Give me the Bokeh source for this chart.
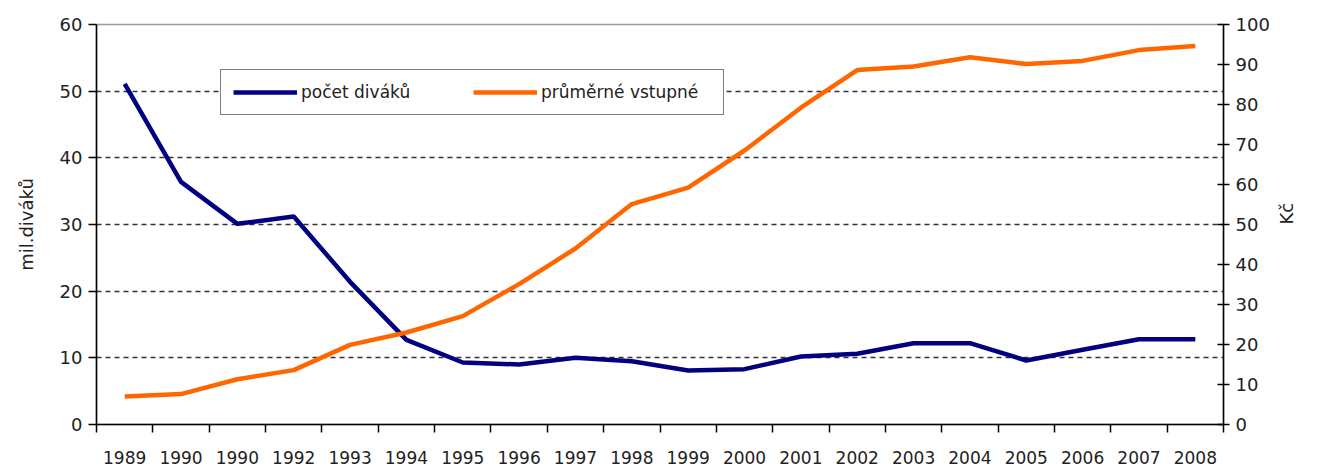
import math
from bokeh.plotting import figure
from bokeh.models import Range1d, LinearAxis, FixedTicker
from bokeh.embed import file_html
from bokeh.resources import INLINE

years = ["1989", "1990", "1990", "1992", "1993", "1994", "1995", "1996", "1997", "1998",
         "1999", "2000", "2001", "2002", "2003", "2004", "2005", "2006", "2007", "2008"]
divaci = [51.1, 36.4, 30.1, 31.2, 21.4, 12.7, 9.3, 9.0, 10.0, 9.5,
          8.1, 8.3, 10.2, 10.6, 12.2, 12.2, 9.6, 11.2, 12.8, 12.8]
vstupne = [7.0, 7.6, 11.3, 13.6, 19.9, 23.0, 27.1, 35.1, 44.0, 55.1,
           59.2, 68.5, 79.2, 88.6, 89.5, 91.8, 90.1, 90.9, 93.6, 94.6]
left_ticks = [0, 10, 20, 30, 40, 50, 60]
right_ticks = [0, 10, 20, 30, 40, 50, 60, 70, 80, 90, 100]

x = list(range(len(years)))
FONT = "DejaVu Sans"

p = figure(width=1310, height=466, output_backend="svg", toolbar_location=None,
           x_range=Range1d(-0.5, len(years) - 0.5), y_range=Range1d(0, 60),
           min_border_left=96, min_border_right=82, min_border_top=24, min_border_bottom=37)
p.extra_y_ranges = {"kc": Range1d(0, 100)}

p.outline_line_color = "#9a9a9a"
p.outline_line_width = 1.5
p.xgrid.visible = False
p.ygrid.ticker = FixedTicker(ticks=[10, 20, 30, 40, 50])
p.ygrid.grid_line_color = "#333333"
p.ygrid.grid_line_dash = "5 4"
p.ygrid.grid_line_width = 1.5

# x axis
xa = p.xaxis[0]
xa.ticker = FixedTicker(ticks=x, minor_ticks=[i - 0.5 for i in range(len(years) + 1)])
xa.major_label_overrides = {i: y for i, y in enumerate(years)}
xa.major_tick_out = 0
xa.major_tick_in = 0
xa.minor_tick_out = 8
xa.minor_tick_in = 0
xa.minor_tick_line_color = "black"
xa.minor_tick_line_width = 1.5
xa.axis_line_color = "black"
xa.axis_line_width = 1.5
xa.major_label_standoff = 18
xa.major_label_text_font = FONT
xa.major_label_text_font_size = "17px"
xa.major_label_text_color = "#222222"

# left axis
ya = p.yaxis[0]
ya.ticker = FixedTicker(ticks=left_ticks)
ya.major_tick_out = 8
ya.major_tick_in = 0
ya.minor_tick_out = 0
ya.minor_tick_in = 0
ya.axis_line_color = "black"
ya.axis_line_width = 1.5
ya.major_tick_line_width = 1.5
ya.major_label_standoff = 6
ya.major_label_text_font = FONT
ya.major_label_text_font_size = "18px"
ya.major_label_text_color = "#222222"
ya.axis_label = "mil.diváků"
ya.axis_label_text_font = FONT
ya.axis_label_text_font_size = "18px"
ya.axis_label_text_font_style = "normal"
ya.axis_label_text_color = "#222222"
ya.axis_label_standoff = 20

# right axis
ra = LinearAxis(y_range_name="kc", ticker=FixedTicker(ticks=right_ticks))
ra.major_tick_out = 6
ra.major_tick_in = 6
ra.minor_tick_out = 0
ra.minor_tick_in = 0
ra.axis_line_color = "black"
ra.axis_line_width = 1.5
ra.major_tick_line_width = 1.5
ra.major_label_standoff = 6
ra.major_label_text_font = FONT
ra.major_label_text_font_size = "18px"
ra.major_label_text_color = "#222222"
ra.axis_label = "Kč"
ra.axis_label_text_font = FONT
ra.axis_label_text_font_size = "18px"
ra.axis_label_text_font_style = "normal"
ra.axis_label_text_color = "#222222"
ra.axis_label_standoff = 14
ra.axis_label_orientation = math.pi / 2
p.add_layout(ra, "right")

p.line(x, divaci, line_color="#000080", line_width=4.5, legend_label="počet diváků")
p.line(x, vstupne, y_range_name="kc", line_color="#FF6600", line_width=4.5,
       legend_label="průměrné vstupné")

lg = p.legend[0]
lg.orientation = "horizontal"
lg.location = (124, 309)
lg.border_line_color = "black"
lg.border_line_width = 1.5
lg.background_fill_color = "white"
lg.background_fill_alpha = 1
lg.label_text_font = FONT
lg.label_text_font_size = "17px"
lg.label_text_color = "#222222"
lg.glyph_width = 64
lg.glyph_height = 20
lg.label_standoff = 4
lg.label_width = 170
lg.spacing = 2
lg.padding = 12
lg.margin = 0

open("out.html", "w").write(file_html(p, INLINE))
